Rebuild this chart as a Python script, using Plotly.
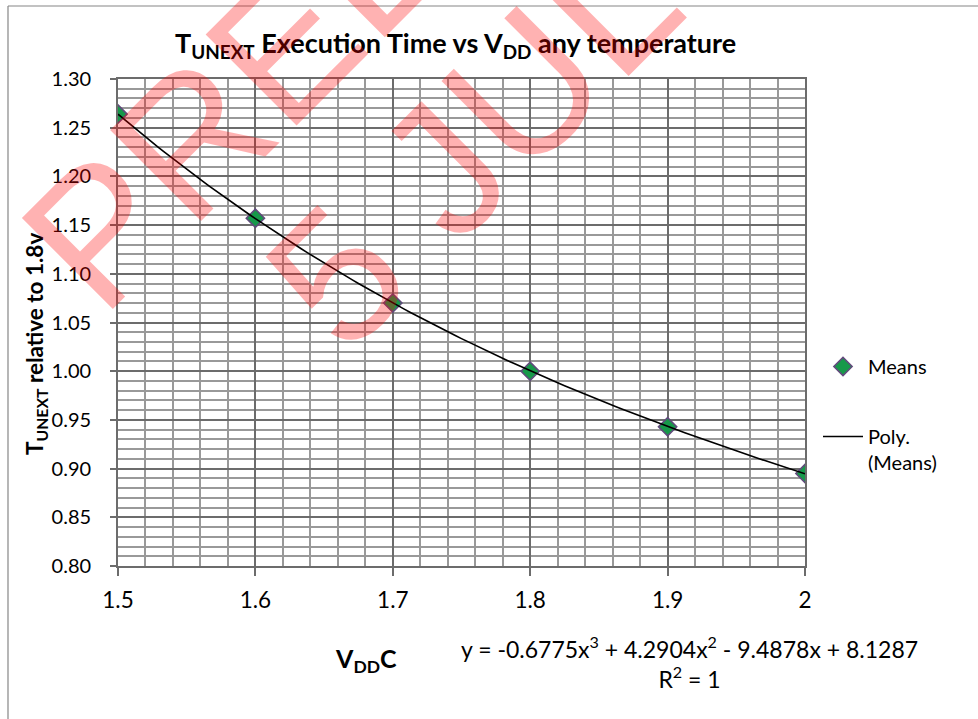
import numpy as np
import plotly.graph_objects as go

# ---- data ----
vdd = [1.5, 1.6, 1.7, 1.8, 1.9, 2.0]
means = [1.264, 1.157, 1.070, 1.000, 0.943, 0.895]
trend_coefs = [-0.6775, 4.2904, -9.4878, 8.1287]   # displayed cubic trendline
x_tickvals = [1.5, 1.6, 1.7, 1.8, 1.9, 2.0]
x_ticktext = ["1.5", "1.6", "1.7", "1.8", "1.9", "2"]
y_tickvals = [0.80, 0.85, 0.90, 0.95, 1.00, 1.05, 1.10, 1.15, 1.20, 1.25, 1.30]
y_ticktext = ["%.2f" % v for v in y_tickvals]

title_txt = "<b>T<sub>UNEXT</sub> Execution Time vs V<sub>DD</sub> any temperature</b>"
ytitle_txt = "<b>T<sub>UNEXT</sub> relative to 1.8v</b>"
xtitle_txt = "<b>V<sub>DD</sub>C</b>"
eq_txt = "y = -0.6775x<sup>3</sup> + 4.2904x<sup>2</sup> - 9.4878x + 8.1287<br>R<sup>2</sup> = 1"
wm1_txt = "PRELIMINARY"
wm2_txt = "5 JULY"

# ---- layout geometry (pixels) ----
W, H = 978, 719
L, R, T, B = 118, 805, 79, 566


def px(xp):
    return (xp - L) / (R - L)


def py(yp):
    return (B - yp) / (B - T)


FONT = "Lato, 'Open Sans', sans-serif"
WM_FONT = "Liberation Sans, Arial, sans-serif"
WM_COLOR = "rgba(255,0,0,0.3)"

x_fit = np.linspace(min(vdd), max(vdd), 121)
y_fit = np.polyval(trend_coefs, x_fit)

fig = go.Figure()
fig.add_trace(go.Scatter(
    x=vdd, y=means, mode="markers", name="Means", legendgroup="a",
    marker=dict(symbol="diamond", size=14, color="#17994a",
                line=dict(color="#604a7b", width=1.6)),
))
fig.add_trace(go.Scatter(
    x=x_fit, y=y_fit, mode="lines", name="Poly.<br>(Means)", legendgroup="b",
    line=dict(color="black", width=1.6),
))

fig.update_layout(
    width=W, height=H,
    margin=dict(l=L, r=W - R, t=T, b=H - B, pad=0),
    paper_bgcolor="white", plot_bgcolor="white",
    font=dict(family=FONT, size=18, color="black"),
    showlegend=True,
    legend=dict(x=px(818), y=py(347), xanchor="left", yanchor="top",
                font=dict(size=20), tracegroupgap=41, valign="top",
                bgcolor="rgba(0,0,0,0)", itemwidth=40),
)

fig.update_xaxes(
    range=[1.5, 2.0], tickvals=x_tickvals, ticktext=x_ticktext,
    showgrid=True, gridcolor="#6c6c6c", gridwidth=1.7,
    minor=dict(dtick=0.02, showgrid=True, gridcolor="#999999", gridwidth=1.5),
    ticks="outside", ticklen=8, tickcolor="#6c6c6c", tickwidth=1.5,
    showline=True, linecolor="#6c6c6c", linewidth=1.7, mirror=True,
    tickfont=dict(size=22.5), ticklabelstandoff=5, zeroline=False,
)
fig.update_yaxes(
    range=[0.8, 1.3], tickvals=y_tickvals, ticktext=y_ticktext,
    showgrid=True, gridcolor="#6c6c6c", gridwidth=1.7,
    minor=dict(dtick=0.01, showgrid=True, gridcolor="#999999", gridwidth=1.5),
    ticks="outside", ticklen=6, tickcolor="#6c6c6c", tickwidth=1.5,
    showline=True, linecolor="#6c6c6c", linewidth=1.7, mirror=True,
    tickfont=dict(size=20), ticklabelstandoff=15, zeroline=False,
)

# outer chart border (left and top edges visible in the reference)
for (xa, ya, xb, yb) in [(8, 6, 8, 760), (8, 6, 1000, 6)]:
    fig.add_shape(type="line", xref="paper", yref="paper",
                  x0=px(xa), y0=py(ya), x1=px(xb), y1=py(yb),
                  line=dict(color="#868686", width=1.2), layer="below")

ann = [
    dict(text=title_txt, x=px(455), y=py(45), font=dict(size=27)),
    dict(text=ytitle_txt, x=px(36), y=py(344), textangle=-90, font=dict(size=22.5)),
    dict(text=xtitle_txt, x=px(366), y=py(660), font=dict(size=25)),
    dict(text=eq_txt, x=px(689), y=py(662), font=dict(size=23), align="center"),
    dict(text=wm1_txt, x=px(503), y=py(-173), textangle=-45,
         font=dict(family=WM_FONT, size=187, color=WM_COLOR)),
    dict(text=wm2_txt, x=px(512), y=py(102), textangle=-45,
         font=dict(family=WM_FONT, size=187, color=WM_COLOR)),
]
for a in ann:
    fig.add_annotation(xref="paper", yref="paper", showarrow=False,
                       xanchor="center", yanchor="middle", **a)

fig.write_html("out.html",
               config={"displayModeBar": False},
               post_script="document.body.style.margin='0';document.body.style.padding='0';")
